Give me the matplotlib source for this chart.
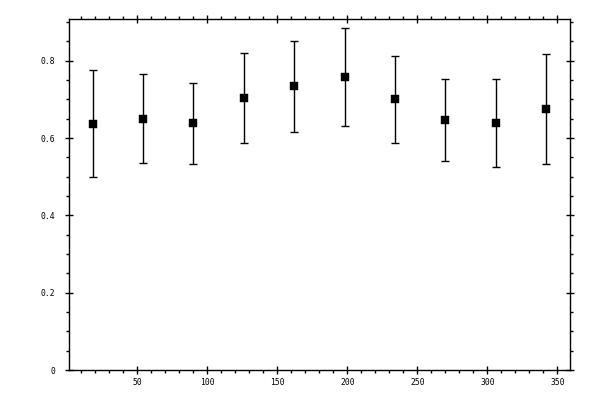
import matplotlib
matplotlib.use("Agg")
import matplotlib.pyplot as plt
from matplotlib.ticker import MultipleLocator, FixedLocator

x_vals = [18, 54, 90, 126, 162, 198, 234, 270, 306, 342]
y_vals = [0.636, 0.649, 0.639, 0.704, 0.735, 0.758, 0.701, 0.646, 0.639, 0.675]
y_upper = [0.777, 0.766, 0.743, 0.820, 0.852, 0.886, 0.813, 0.753, 0.753, 0.817]
y_lower = [0.500, 0.535, 0.532, 0.587, 0.616, 0.631, 0.587, 0.540, 0.525, 0.532]
x_ticks = [50, 100, 150, 200, 250, 300, 350]
y_ticks = [0, 0.2, 0.4, 0.6, 0.8]
y_ticklabels = ["0", "0.2", "0.4", "0.6", "0.8"]

err_lo = [v - lo for v, lo in zip(y_vals, y_lower)]
err_hi = [hi - v for v, hi in zip(y_vals, y_upper)]

fig = plt.figure(figsize=(6, 4), dpi=100)
ax = fig.add_axes([69/600, 30/400, (570-69)/600, (370-19)/400])

ax.errorbar(x_vals, y_vals, yerr=[err_lo, err_hi], fmt='none',
            ecolor='black', elinewidth=1.0, capsize=2.7, capthick=1.0)
ax.plot(x_vals, y_vals, 's', color='black', markersize=5.2,
        markeredgewidth=0.3, linestyle='none')

ax.set_xlim(1.2, 359)
ax.set_ylim(0, 0.908)

ax.xaxis.set_major_locator(FixedLocator(x_ticks))
ax.xaxis.set_minor_locator(MultipleLocator(10))
ax.yaxis.set_major_locator(FixedLocator(y_ticks))
ax.yaxis.set_minor_locator(MultipleLocator(0.05))
ax.set_yticklabels(y_ticklabels)

for s in ax.spines.values():
    s.set_linewidth(1.0)

ax.tick_params(which='major', direction='inout', length=6, width=1.0,
               top=True, right=True, labelsize=5.8, pad=3)
ax.tick_params(which='minor', direction='out', length=2.5, width=1.0,
               top=True, right=True)
ax.tick_params(axis='y', which='major', pad=7)
for lab in ax.get_xticklabels() + ax.get_yticklabels():
    lab.set_family('DejaVu Sans Mono')

fig.savefig("out.png", dpi=100)
